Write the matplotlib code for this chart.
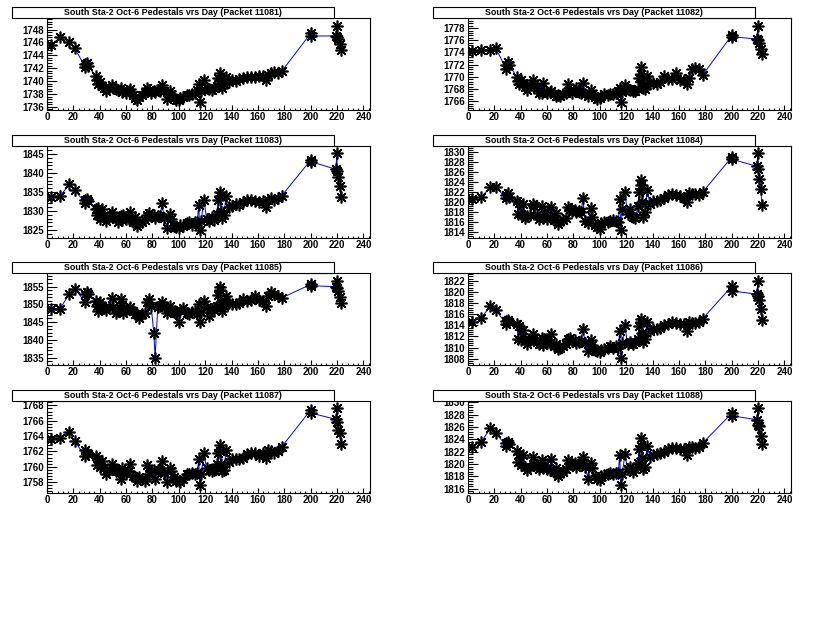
import numpy as np
import matplotlib
matplotlib.use("Agg")
import matplotlib.pyplot as plt
from matplotlib.patches import Rectangle
from matplotlib.ticker import MultipleLocator

plt.rcParams['font.family'] = ['Liberation Sans', 'DejaVu Sans']

days = [3, 10, 17, 21, 29, 29, 30, 31,
        37, 38, 39, 40, 42, 43, 45, 47, 49, 50,
        52, 54, 56, 57, 58, 60, 62, 63, 65, 67,
        68, 70, 72, 74, 76, 77, 79, 81, 82, 84,
        86, 87, 89, 91, 93, 94, 96, 98, 100, 101,
        103, 106, 108, 110, 112, 114, 115, 116, 117, 119,
        121, 123, 125, 127, 129, 130, 131, 131, 132, 133,
        134, 136, 138, 140, 143, 146, 149, 152, 155, 158,
        161, 164, 166, 168, 170, 172, 175, 178,
        200, 200, 219, 220, 220, 221, 222, 223]

packets = [11081, 11082, 11083, 11084, 11085, 11086, 11087, 11088]

ped_11081 = [1745.6, 1746.8, 1746.1, 1745.1, 1742.2, 1742.6, 1742.8, 1742.4,
             1740.8, 1740.2, 1739.6, 1739.8, 1739.3, 1738.9, 1738.5, 1739.0, 1739.4, 1739.0,
             1738.8, 1738.6, 1738.9, 1738.3, 1738.5, 1738.2, 1738.4, 1738.8, 1737.9, 1737.4,
             1737.1, 1737.6, 1737.8, 1738.3, 1739.0, 1738.6, 1738.2, 1738.5, 1738.3, 1738.6,
             1738.4, 1739.4, 1738.5, 1737.2, 1738.4, 1738.0, 1737.4, 1737.1, 1737.0, 1737.3,
             1737.6, 1737.8, 1737.8, 1738.0, 1738.2, 1738.6, 1739.6, 1736.7, 1738.4, 1740.1,
             1739.0, 1738.8, 1738.6, 1738.9, 1739.2, 1740.5, 1741.3, 1740.2, 1739.4, 1738.9,
             1739.6, 1740.6, 1739.9, 1740.2, 1740.0, 1740.3, 1740.4, 1740.6, 1740.7, 1740.6,
             1740.8, 1740.8, 1740.1, 1741.0, 1741.3, 1741.4, 1741.2, 1741.5,
             1747.4, 1747.0, 1747.0, 1748.6, 1746.8, 1746.6, 1745.8, 1744.9]

ped_11082 = [1774.3, 1774.4, 1774.4, 1774.7, 1771.3, 1772.0, 1772.4, 1772.0,
             1770.0, 1769.3, 1768.8, 1769.5, 1768.9, 1768.3, 1767.8, 1768.6, 1769.4, 1768.8,
             1768.2, 1767.4, 1767.3, 1769.0, 1767.6, 1767.4, 1767.5, 1767.6, 1767.1, 1766.9,
             1767.0, 1766.8, 1767.1, 1767.4, 1768.8, 1767.9, 1767.4, 1767.7, 1768.1, 1767.5,
             1767.3, 1768.9, 1767.2, 1766.8, 1767.8, 1767.2, 1766.6, 1766.4, 1766.5, 1766.8,
             1767.2, 1767.0, 1767.1, 1767.2, 1767.4, 1767.6, 1768.2, 1765.8, 1767.5, 1768.6,
             1768.0, 1767.8, 1767.6, 1767.7, 1768.0, 1769.8, 1771.6, 1770.5, 1769.2, 1768.2,
             1768.0, 1770.2, 1769.0, 1769.0, 1768.8, 1769.2, 1770.2, 1769.6, 1769.6, 1770.6,
             1769.5, 1769.4, 1768.8, 1769.8, 1771.2, 1771.4, 1771.2, 1770.3,
             1776.8, 1776.6, 1776.2, 1778.4, 1776.0, 1775.6, 1774.6, 1773.8]

ped_11083 = [1833.7, 1834.0, 1837.0, 1835.4, 1832.2, 1833.0, 1833.2, 1832.6,
             1830.6, 1829.0, 1830.8, 1828.0, 1830.6, 1828.6, 1827.4, 1828.4, 1829.6, 1828.6,
             1828.0, 1827.2, 1828.6, 1827.6, 1829.0, 1827.8, 1828.0, 1829.8, 1827.0, 1828.4,
             1826.0, 1826.8, 1827.0, 1827.6, 1829.0, 1829.4, 1828.6, 1829.0, 1828.2, 1828.8,
             1828.6, 1832.0, 1828.2, 1825.4, 1829.2, 1828.0, 1826.0, 1825.8, 1825.4, 1826.2,
             1826.0, 1826.8, 1827.0, 1826.4, 1827.2, 1827.0, 1831.6, 1825.0, 1827.4, 1833.0,
             1828.0, 1827.4, 1828.4, 1827.6, 1829.2, 1833.0, 1835.0, 1834.0, 1830.0, 1828.2,
             1829.0, 1834.0, 1831.0, 1831.4, 1831.8, 1831.6, 1832.4, 1833.0, 1833.0, 1832.6,
             1832.4, 1832.6, 1831.0, 1833.0, 1833.4, 1833.0, 1833.4, 1834.0,
             1843.4, 1843.0, 1841.0, 1845.2, 1840.4, 1839.0, 1836.6, 1833.6]

ped_11084 = [1820.6, 1821.0, 1823.0, 1823.0, 1820.8, 1821.4, 1821.8, 1821.0,
             1820.2, 1817.6, 1819.8, 1817.6, 1819.6, 1816.8, 1817.2, 1817.4, 1819.6, 1819.2,
             1817.4, 1816.6, 1819.2, 1816.8, 1818.0, 1816.6, 1817.0, 1819.0, 1816.4, 1817.8,
             1815.6, 1816.2, 1816.4, 1816.8, 1819.0, 1818.6, 1818.2, 1818.4, 1818.0, 1818.2,
             1818.0, 1820.8, 1816.2, 1815.8, 1818.8, 1817.0, 1815.4, 1815.0, 1814.6, 1815.8,
             1816.0, 1816.0, 1816.2, 1816.4, 1816.2, 1816.0, 1820.6, 1814.4, 1818.6, 1822.0,
             1817.6, 1818.6, 1817.0, 1816.8, 1819.2, 1822.0, 1824.4, 1823.4, 1820.0, 1817.0,
             1818.0, 1822.4, 1819.6, 1820.2, 1820.2, 1820.4, 1820.8, 1821.4, 1821.6, 1821.4,
             1821.2, 1820.8, 1820.0, 1821.8, 1821.6, 1821.6, 1821.4, 1822.0,
             1829.0, 1828.6, 1827.2, 1829.8, 1826.6, 1824.6, 1822.6, 1819.4]

ped_11085 = [1848.8, 1848.8, 1853.0, 1854.4, 1850.6, 1853.0, 1853.4, 1852.8,
             1850.8, 1849.4, 1848.0, 1850.6, 1849.6, 1849.0, 1848.4, 1849.2, 1851.8, 1849.2,
             1847.6, 1848.2, 1851.4, 1849.8, 1847.6, 1848.0, 1848.6, 1849.2, 1848.0, 1847.4,
             1847.2, 1846.0, 1847.4, 1847.6, 1850.6, 1851.4, 1849.4, 1842.0, 1835.0, 1849.2,
             1849.6, 1850.6, 1849.6, 1847.6, 1849.4, 1848.4, 1847.8, 1847.6, 1845.0, 1848.4,
             1849.0, 1847.6, 1847.4, 1847.8, 1848.0, 1847.4, 1850.0, 1845.0, 1847.8, 1850.8,
             1849.2, 1846.6, 1848.8, 1848.4, 1849.6, 1852.6, 1855.0, 1854.0, 1850.6, 1848.2,
             1849.4, 1852.2, 1850.4, 1850.2, 1850.0, 1850.4, 1851.6, 1851.0, 1851.2, 1852.4,
             1851.2, 1850.8, 1849.6, 1852.4, 1853.4, 1853.0, 1852.4, 1851.8,
             1855.6, 1855.2, 1855.0, 1856.6, 1854.6, 1853.8, 1852.0, 1850.4]

ped_11086 = [1814.6, 1815.4, 1817.4, 1816.8, 1814.2, 1814.8, 1815.0, 1814.6,
             1814.2, 1811.6, 1813.8, 1811.4, 1813.2, 1811.6, 1810.6, 1811.4, 1812.4, 1811.8,
             1811.0, 1810.6, 1811.8, 1810.4, 1811.6, 1810.8, 1810.8, 1812.4, 1810.2, 1810.6,
             1809.8, 1810.0, 1810.2, 1810.6, 1811.6, 1811.8, 1811.2, 1811.4, 1810.8, 1811.0,
             1811.2, 1813.4, 1810.8, 1809.4, 1811.4, 1810.4, 1809.6, 1809.4, 1809.2, 1809.6,
             1809.8, 1810.0, 1810.2, 1810.0, 1810.2, 1810.0, 1813.0, 1808.2, 1810.8, 1814.0,
             1810.6, 1811.0, 1810.6, 1811.0, 1811.6, 1813.8, 1815.2, 1814.6, 1812.6, 1811.0,
             1811.6, 1814.6, 1813.0, 1813.4, 1813.4, 1813.6, 1814.0, 1814.2, 1814.6, 1814.4,
             1814.2, 1814.2, 1813.0, 1814.6, 1814.4, 1814.4, 1814.6, 1815.2,
             1821.0, 1820.2, 1819.6, 1822.0, 1819.2, 1818.6, 1817.0, 1815.0]

ped_11087 = [1763.6, 1763.8, 1764.5, 1763.3, 1761.4, 1762.2, 1761.8, 1761.6,
             1761.4, 1760.2, 1761.0, 1760.0, 1760.8, 1759.8, 1759.0, 1759.6, 1760.4, 1759.8,
             1759.4, 1759.4, 1758.4, 1759.8, 1759.2, 1759.2, 1759.4, 1760.4, 1758.8, 1758.6,
             1758.1, 1758.6, 1758.4, 1758.2, 1760.2, 1759.0, 1759.4, 1759.6, 1758.4, 1759.6,
             1759.6, 1760.8, 1759.2, 1758.0, 1759.8, 1759.4, 1758.6, 1758.2, 1758.2, 1758.0,
             1758.4, 1759.0, 1759.1, 1759.2, 1759.0, 1759.2, 1761.0, 1757.6, 1759.0, 1761.8,
             1759.8, 1759.6, 1759.4, 1759.6, 1760.4, 1761.8, 1762.8, 1762.0, 1760.4, 1759.4,
             1759.6, 1762.2, 1760.6, 1761.0, 1761.0, 1761.0, 1761.2, 1761.6, 1761.8, 1761.8,
             1761.4, 1761.8, 1761.2, 1762.2, 1762.0, 1761.8, 1762.0, 1762.6,
             1767.4, 1767.0, 1766.2, 1767.6, 1765.8, 1764.8, 1764.4, 1763.0]

ped_11088 = [1822.8, 1823.6, 1825.8, 1825.0, 1823.0, 1823.4, 1823.6, 1823.2,
             1822.2, 1820.4, 1821.6, 1819.8, 1821.4, 1819.6, 1819.0, 1819.6, 1821.2, 1819.8,
             1819.8, 1819.2, 1820.6, 1819.4, 1819.8, 1819.2, 1819.0, 1820.8, 1818.8, 1819.4,
             1818.0, 1818.6, 1818.8, 1819.2, 1820.6, 1820.2, 1820.0, 1820.2, 1819.6, 1820.0,
             1820.2, 1821.2, 1819.6, 1817.6, 1820.2, 1819.4, 1818.0, 1817.6, 1817.4, 1818.0,
             1818.2, 1818.4, 1818.6, 1818.4, 1818.6, 1818.6, 1821.4, 1816.6, 1818.4, 1821.6,
             1819.2, 1819.6, 1818.8, 1819.2, 1820.2, 1822.4, 1824.2, 1823.0, 1821.0, 1819.2,
             1819.6, 1823.0, 1821.2, 1821.4, 1821.6, 1821.8, 1822.0, 1822.4, 1822.6, 1822.6,
             1822.4, 1822.4, 1821.4, 1822.8, 1822.8, 1822.6, 1822.8, 1823.4,
             1828.2, 1827.8, 1827.2, 1829.0, 1826.4, 1826.2, 1824.6, 1823.2]

peds = [ped_11081, ped_11082, ped_11083, ped_11084,
        ped_11085, ped_11086, ped_11087, ped_11088]
y_steps = [2, 2, 5, 2, 5, 2, 2, 2]

W, H = 840, 638
pad_h = H / 5.0
fig = plt.figure(figsize=(W / 100, H / 100), dpi=100)
fig.patch.set_facecolor('white')

x = np.array(days, dtype=float)
for k in range(8):
    row, col = k // 2, k % 2
    y = np.array(peds[k])
    left = 47 + 421 * col
    top = 18 + pad_h * row
    ax = fig.add_axes([left / W, 1 - (top + 92) / H, 323 / W, 92 / H])

    # blue line under the black asterisks, like ROOT "LP"
    ax.plot(x, y, color='blue', lw=0.7, zorder=2)
    ax.plot(x, y, ls='none', marker=(8, 2, 0), ms=8.5, mec='black', mew=1.2, zorder=3)

    # ROOT-like automatic range
    dx = x.max() - x.min()
    dy = y.max() - y.min()
    ax.set_xlim(max(0, x.min() - 0.1 * dx), x.max() + 0.1 * dx)
    ax.set_ylim(y.min() - 0.1 * dy, y.max() + 0.1 * dy)

    ax.xaxis.set_major_locator(MultipleLocator(20))
    ax.xaxis.set_minor_locator(MultipleLocator(4))
    ax.yaxis.set_major_locator(MultipleLocator(y_steps[k]))
    ax.yaxis.set_minor_locator(MultipleLocator(y_steps[k] / 5))
    ax.tick_params(axis='both', which='both', direction='in', top=False, right=False,
                   width=0.8, labelsize=7)
    ax.tick_params(axis='y', which='major', length=7, pad=2)
    ax.tick_params(axis='y', which='minor', length=3.5)
    ax.tick_params(axis='x', which='major', length=3.5, pad=1.5)
    ax.tick_params(axis='x', which='minor', length=1.8)
    for lab in ax.get_xticklabels() + ax.get_yticklabels():
        lab.set_fontweight('bold')
    for s in ax.spines.values():
        s.set_linewidth(0.8)

    # title box
    bx0 = 12 + 421 * col
    bx1 = 334 + 421 * col
    by0 = 7 + pad_h * row
    by1 = 18 + pad_h * row
    fig.patches.append(Rectangle((bx0 / W, 1 - by1 / H), (bx1 - bx0) / W, (by1 - by0) / H,
                                 transform=fig.transFigure, facecolor='white',
                                 edgecolor='black', lw=0.8, zorder=5))
    fig.text((bx0 + bx1) / 2 / W, 1 - (by0 + by1) / 2 / H,
             'South Sta-2 Oct-6 Pedestals vrs Day (Packet %d)' % packets[k],
             ha='center', va='center', fontsize=6.4, fontweight='bold', zorder=6)

fig.savefig('out.png', dpi=100)
